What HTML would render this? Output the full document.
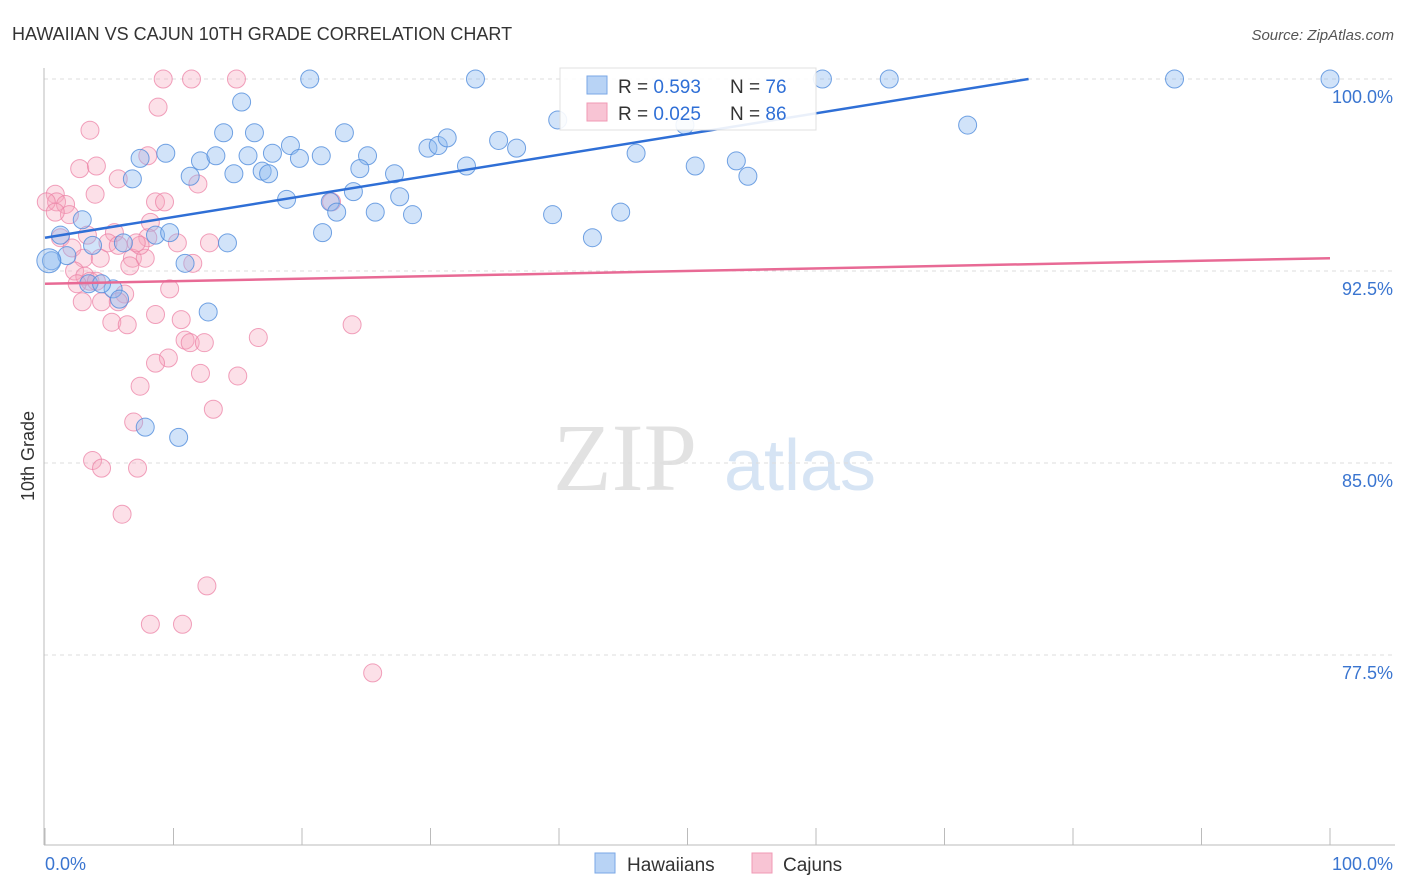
<!DOCTYPE html>
<html><head><meta charset="utf-8"><style>
body{margin:0;background:#fff;font-family:"Liberation Sans",sans-serif;}
svg{display:block}
</style></head><body>
<svg id="chart" width="1406" height="892">
<text x="12" y="40" font-size="18" fill="#333">HAWAIIAN VS CAJUN 10TH GRADE CORRELATION CHART</text>
<text x="1394" y="40" font-size="15" fill="#555" font-style="italic" text-anchor="end">Source: ZipAtlas.com</text>
<text x="625" y="490" font-size="96" fill="#e2e2e2" font-family="Liberation Serif,serif" text-anchor="middle">ZIP</text>
<text x="800" y="490" font-size="72" fill="#d6e4f4" text-anchor="middle">atlas</text>
<text transform="translate(34,456) rotate(-90)" font-size="18" fill="#333" text-anchor="middle">10th Grade</text>
<g id="grid"></g><g id="axes"></g><g id="pts"></g><g id="lines"></g>
<g>
<rect x="560" y="68" width="256" height="62" fill="#fff" stroke="#ddd" opacity="0.9"/>
<rect x="587" y="76" width="20" height="18" fill="#b8d3f5" stroke="#7aa7e6"/>
<text x="618" y="93" font-size="19" fill="#333">R = <tspan fill="#2f6fd6">0.593</tspan></text>
<text x="730" y="93" font-size="19" fill="#333">N = <tspan fill="#2f6fd6">76</tspan></text>
<rect x="587" y="103" width="20" height="18" fill="#f8c4d4" stroke="#f09ab5"/>
<text x="618" y="120" font-size="19" fill="#333">R = <tspan fill="#2f6fd6">0.025</tspan></text>
<text x="730" y="120" font-size="19" fill="#333">N = <tspan fill="#2f6fd6">86</tspan></text>
</g>
<g>
<rect x="595" y="853" width="20" height="20" fill="#b8d3f5" stroke="#7aa7e6"/>
<text x="627" y="871" font-size="19" fill="#333">Hawaiians</text>
<rect x="752" y="853" width="20" height="20" fill="#f8c4d4" stroke="#f09ab5"/>
<text x="783" y="871" font-size="19" fill="#333">Cajuns</text>
</g>
</svg>
<script>
const yTicks=[100,92.5,85,77.5];
const yTickLabels=["100.0%","92.5%","85.0%","77.5%"];
const xTickLabels=["0.0%","100.0%"];
const blueX=[20.6,33.5,60.5,65.7,87.9,100,15.3,39.9,49.8,71.8,13.9,16.3,23.3,9.4,7.4,12.1,13.3,15.8,17.7,19.1,19.8,21.5,25.1,29.8,30.6,31.3,35.3,36.7,46.0,50.6,53.8,54.7,32.8,24.5,27.2,14.7,11.3,16.9,17.4,6.8,18.8,24.0,27.6,22.2,22.7,25.7,28.6,39.5,44.8,21.6,42.6,2.9,8.6,9.7,14.2,3.7,6.1,0.5,1.7,10.9,5.3,5.8,3.4,4.4,12.7,7.8,10.4,1.2,0.3];
const blueY=[100,100,100,100,100,100,99.1,98.4,98.2,98.2,97.9,97.9,97.9,97.1,96.9,96.8,97.0,97.0,97.1,97.4,96.9,97.0,97.0,97.3,97.4,97.7,97.6,97.3,97.1,96.6,96.8,96.2,96.6,96.5,96.3,96.3,96.2,96.4,96.3,96.1,95.3,95.6,95.4,95.2,94.8,94.8,94.7,94.7,94.8,94.0,93.8,94.5,93.9,94.0,93.6,93.5,93.6,92.9,93.1,92.8,91.8,91.4,92.0,92.0,90.9,86.4,86.0,93.9,92.9];
const pinkX=[9.2,11.4,14.9,8.8,3.5,8.0,2.7,4.0,5.7,11.9,0.8,3.9,0.9,1.6,0.1,1.9,0.8,8.6,9.3,8.2,3.3,1.2,2.1,5.4,8.0,10.3,3.0,4.3,6.8,7.8,11.5,6.6,4.9,5.7,7.4,2.3,3.1,3.5,2.5,4.0,6.2,4.4,2.9,5.7,9.7,5.2,6.4,8.6,10.6,23.9,10.9,11.3,12.4,16.6,9.6,8.6,12.1,15.0,7.4,13.1,6.9,3.7,4.4,7.2,6.0,12.6,8.2,10.7,25.5,22.3,12.8,7.1];
const pinkY=[100,100,100,98.9,98.0,97.0,96.5,96.6,96.1,95.9,95.5,95.5,95.2,95.1,95.2,94.7,94.8,95.2,95.2,94.4,93.9,93.8,93.4,94.0,93.8,93.6,93.0,93.0,93.0,93.0,92.8,92.7,93.6,93.5,93.5,92.5,92.3,92.1,92.0,92.1,91.6,91.3,91.3,91.3,91.8,90.5,90.4,90.8,90.6,90.4,89.8,89.7,89.7,89.9,89.1,88.9,88.5,88.4,88.0,87.1,86.6,85.1,84.8,84.8,83.0,80.2,78.7,78.7,76.8,95.2,93.6,93.6];
const blueTrend=[93.8,101.9];
const pinkTrend=[92.0,93.0];
const NS='http://www.w3.org/2000/svg';
const X0=45,X1=1330,Y100=79,PPU=25.6;
const sx=v=>X0+(X1-X0)*v/100;
const sy=v=>Y100+(100-v)*PPU;
function mk(t,a,p){const e=document.createElementNS(NS,t);for(const k in a)e.setAttribute(k,a[k]);document.getElementById(p).appendChild(e);return e;}
yTicks.forEach((t,i)=>{
 const l=mk('line',{x1:44,x2:1395,y1:sy(t),y2:sy(t),stroke:'#ddd','stroke-dasharray':'4,4'},'grid');
 
 
 const tx=mk('text',{x:1393,y:sy(t)+24,'font-size':18,fill:'#3a75d0','text-anchor':'end'},'grid');
 tx.textContent=yTickLabels[i];
 
 
});
const ax=mk('line',{x1:44,x2:44,y1:68,y2:845,stroke:'#bbb'},'axes');


const bx=mk('line',{x1:44,x2:1395,y1:845,y2:845,stroke:'#bbb'},'axes');


for(let i=0;i<=10;i++){const t=mk('line',{x1:sx(i*10),x2:sx(i*10),y1:828,y2:845,stroke:'#bbb'},'axes');
 
 }
[[0,'start',45],[100,'end',1393]].forEach((d,i)=>{const t=mk('text',{x:d[2],y:870,'font-size':18,fill:'#3a75d0','text-anchor':d[1]},'axes');
 t.textContent=xTickLabels[i];
 
 });
pinkX.forEach((v,i)=>{const c=mk('circle',{cx:sx(v),cy:sy(pinkY[i]),r:9,fill:'rgba(245,165,190,0.35)',stroke:'rgba(236,130,165,0.75)','stroke-width':1},'pts');
 
 });
blueX.forEach((v,i)=>{const c=mk('circle',{cx:sx(v),cy:sy(blueY[i]),r:(i==blueX.length-1?12:9),fill:'rgba(140,185,240,0.4)',stroke:'rgba(80,140,220,0.8)','stroke-width':1},'pts');
 
 });
const bx1=(100-blueTrend[0])/(blueTrend[1]-blueTrend[0])*100;
const bl=mk('line',{x1:sx(0),y1:sy(blueTrend[0]),x2:sx(Math.min(100,bx1)),y2:sy(Math.min(100,blueTrend[1])),stroke:'#2f6fd6','stroke-width':2.5},'lines');


const pl=mk('line',{x1:sx(0),y1:sy(pinkTrend[0]),x2:sx(100),y2:sy(pinkTrend[1]),stroke:'#e86a95','stroke-width':2.5},'lines');


</script>
</body></html>
